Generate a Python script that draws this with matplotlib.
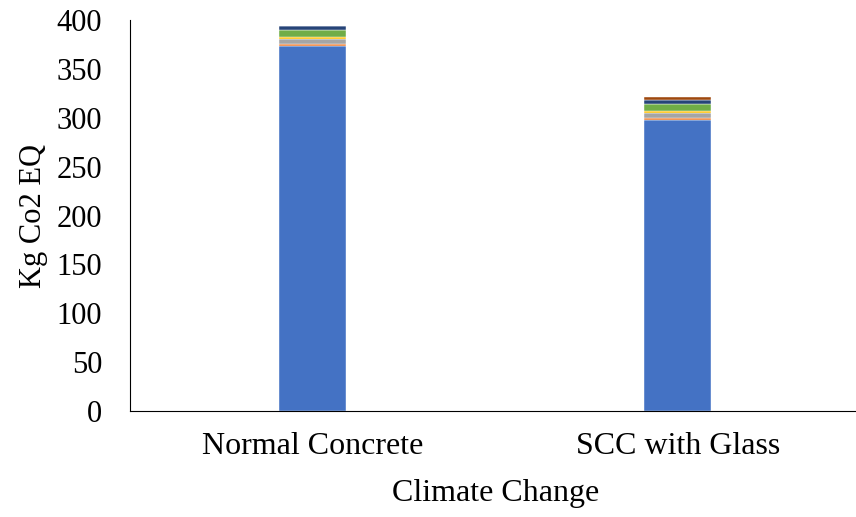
import numpy as np
import matplotlib.pyplot as plt

plt.rcParams['font.family'] = ['Liberation Serif', 'DejaVu Serif']

categories = ['Normal Concrete', 'SCC with Glass']
# stacked contributions, bottom to top
seg_blue = [373.7, 298.0]
seg_orange = [1.7, 1.7]
seg_gray = [5.2, 5.2]
seg_yellow = [2.4, 2.3]
seg_green = [6.8, 6.9]
seg_navy = [4.1, 4.4]
seg_brown = [0.0, 2.7]

segments = [seg_blue, seg_orange, seg_gray, seg_yellow, seg_green, seg_navy, seg_brown]
colors = ['#4472C4', '#ED7D31', '#A5A5A5', '#FFC000', '#70AD47', '#264478', '#9E480E']

fig = plt.figure(figsize=(8.56, 5.17), dpi=100)
ax = fig.add_axes([0.152, 0.205, 0.853, 0.756])

x = np.arange(len(categories))
bottom = np.zeros(len(categories))
for vals, c in zip(segments, colors):
    ax.bar(x, vals, width=0.183, bottom=bottom, color=c, edgecolor='white', linewidth=0.3)
    bottom += np.array(vals)

ax.set_xlim(-0.5, 1.5)
ax.set_ylim(0, 400)
ax.set_yticks(np.arange(0, 401, 50))
ax.set_xticks(x)
ax.set_xticklabels(categories)
ax.tick_params(axis='y', length=0, labelsize=22, pad=20)
ax.tick_params(axis='x', length=0, labelsize=23, pad=15)
ax.set_xlabel('Climate Change', fontsize=23, labelpad=13)
ax.set_ylabel('Kg Co2 EQ', fontsize=22, labelpad=6)
ax.spines['top'].set_visible(False)
ax.spines['right'].set_visible(False)
ax.spines['left'].set_color('black')
ax.spines['bottom'].set_color('black')

fig.savefig('out.png', dpi=100)
